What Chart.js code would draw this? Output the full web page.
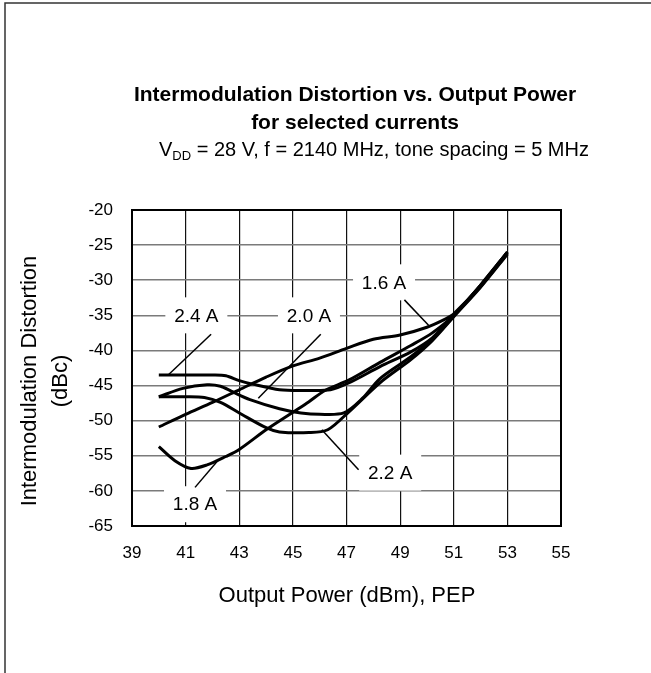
<!DOCTYPE html>
<html>
<head>
<meta charset="utf-8">
<script src="https://cdn.jsdelivr.net/npm/chart.js@4.4.0/dist/chart.umd.min.js"></script>
<style>
  html, body { margin: 0; padding: 0; background: #fff; }
</style>
</head>
<body>
<canvas id="chart" width="651" height="673"></canvas>
<script>
// ===== data =====
const seriesNames = ['1.6 A', '1.8 A', '2.0 A', '2.2 A', '2.4 A'];

const x16 = [40, 41, 42, 43, 44, 45, 46, 47, 48, 49, 50, 50.7, 51, 52, 53];
const y16 = [-50.9, -49.1, -47.4, -45.6, -43.8, -42.2, -41.1, -39.7, -38.4, -37.8, -36.7, -35.5, -34.8, -30.8, -26];

const x18 = [40, 40.6, 41.2, 41.8, 42.5, 43, 44, 45, 45.6, 46.2, 47.1, 48.25, 49.4, 50.2, 51, 52, 53];
const y18 = [-53.7, -55.7, -56.8, -56.3, -55.1, -54.1, -51.3, -48.8, -47.3, -45.7, -44.2, -41.7, -39.3, -37.5, -35, -30.7, -26];

const x20 = [40, 40.9, 41.8, 42.3, 42.7, 43.4, 44.5, 45.3, 46, 46.9, 47.6, 48.25, 49.4, 50.2, 51, 52, 53];
const y20 = [-46.6, -45.4, -44.9, -45.1, -45.8, -47.0, -48.3, -48.9, -49.1, -48.9, -46.8, -44.0, -40.9, -38.4, -35.1, -30.9, -26.2];

const x22 = [40, 41, 41.7, 42.3, 43, 44, 44.5, 45.6, 46.3, 47.1, 48.25, 49.4, 50.2, 51, 52, 53];
const y22 = [-46.6, -46.6, -46.7, -47.4, -48.9, -51.0, -51.6, -51.7, -51.3, -48.7, -44.6, -41.3, -38.6, -35.2, -31.0, -26.3];

const x24 = [40, 41, 42, 42.5, 43, 43.5, 44.5, 45.5, 46.4, 47.1, 48.25, 49.4, 50.2, 51, 52, 53];
const y24 = [-43.5, -43.5, -43.5, -43.6, -44.3, -44.8, -45.6, -45.7, -45.6, -44.6, -42.3, -40.2, -38.2, -35, -30.7, -26];

const xTicks = [39, 41, 43, 45, 47, 49, 51, 53, 55];
const yTicks = [-20, -25, -30, -35, -40, -45, -50, -55, -60, -65];

// callout labels: text position and leader line, in data units
const callouts = [
  { text: '2.4 A', x: 41.4, y: -35.0, from: [41.95, -37.7], to: [40.35, -43.5] },
  { text: '2.0 A', x: 45.6, y: -35.0, from: [46.04, -37.7], to: [43.71, -46.8] },
  { text: '1.6 A', x: 48.4, y: -30.3, from: [49.16, -32.8], to: [50.06, -36.4] },
  { text: '2.2 A', x: 48.63, y: -57.4, from: [47.45, -57.0], to: [46.08, -51.3] },
  { text: '1.8 A', x: 41.35, y: -61.9, from: [41.35, -59.5], to: [42.22, -55.6] }
];

const FONT = "'Liberation Sans', Arial, Helvetica, sans-serif";

function pts(xs, ys) {
  return xs.map((x, i) => ({ x: x, y: ys[i] }));
}

const allX = [x16, x18, x20, x22, x24];
const allY = [y16, y18, y20, y22, y24];

const datasets = seriesNames.map((name, i) => ({
  label: name,
  data: pts(allX[i], allY[i]),
  borderColor: '#000',
  borderWidth: 3,
  pointRadius: 0,
  tension: 0.3,
  fill: false
}));

// titles, axis titles, frames and callouts
const decor = {
  id: 'decor',
  beforeDatasetsDraw(chart) {
    const ctx = chart.ctx;
    const xs = chart.scales.x, ys = chart.scales.y;
    ctx.save();
    ctx.font = '19px ' + FONT;
    ctx.textAlign = 'center';
    ctx.textBaseline = 'middle';
    callouts.forEach(c => {
      const px = xs.getPixelForValue(c.x);
      const py = ys.getPixelForValue(c.y);
      ctx.fillStyle = '#fff';
      ctx.fillRect(px - 31, py - 18, 62, 36);
      ctx.fillStyle = '#000';
      ctx.fillText(c.text, px, py + 1);
      ctx.beginPath();
      ctx.moveTo(xs.getPixelForValue(c.from[0]), ys.getPixelForValue(c.from[1]));
      ctx.lineTo(xs.getPixelForValue(c.to[0]), ys.getPixelForValue(c.to[1]));
      ctx.lineWidth = 1.5;
      ctx.strokeStyle = '#000';
      ctx.stroke();
    });
    ctx.restore();
  },
  afterDraw(chart) {
    const ctx = chart.ctx;
    const a = chart.chartArea;
    ctx.save();
    // plot frame
    ctx.strokeStyle = '#000';
    ctx.lineWidth = 2;
    ctx.strokeRect(a.left, a.top, a.right - a.left, a.bottom - a.top);

    // outer frame (left and top)
    ctx.strokeStyle = '#333';
    ctx.lineWidth = 1.5;
    ctx.beginPath();
    ctx.moveTo(5, 673);
    ctx.lineTo(5, 3);
    ctx.lineTo(651, 3);
    ctx.stroke();

    ctx.fillStyle = '#000';
    ctx.textAlign = 'center';
    ctx.textBaseline = 'middle';
    ctx.font = 'bold 21px ' + FONT;
    ctx.fillText('Intermodulation Distortion vs. Output Power', 355, 95);
    ctx.fillText('for selected currents', 355, 123);

    // subtitle with subscript
    const partA = 'V', partSub = 'DD', partB = ' = 28 V, f = 2140 MHz, tone spacing = 5 MHz';
    ctx.font = '20px ' + FONT;
    const wA = ctx.measureText(partA).width;
    const wB = ctx.measureText(partB).width;
    ctx.font = '13px ' + FONT;
    const wS = ctx.measureText(partSub).width;
    let sx = 374 - (wA + wS + wB) / 2;
    ctx.textAlign = 'left';
    ctx.font = '20px ' + FONT;
    ctx.fillText(partA, sx, 150);
    ctx.font = '13px ' + FONT;
    ctx.fillText(partSub, sx + wA, 156);
    ctx.font = '20px ' + FONT;
    ctx.fillText(partB, sx + wA + wS, 150);

    // axis titles
    ctx.textAlign = 'center';
    ctx.font = '22px ' + FONT;
    ctx.fillText('Output Power (dBm), PEP', 347, 596);
    ctx.translate(30, 381);
    ctx.rotate(-Math.PI / 2);
    ctx.fillText('Intermodulation Distortion', 0, 0);
    ctx.fillText('(dBc)', 0, 31);
    ctx.restore();
  }
};

new Chart(document.getElementById('chart'), {
  type: 'line',
  data: { datasets: datasets },
  options: {
    responsive: false,
    animation: false,
    layout: { padding: { left: 0, top: 210, right: 90, bottom: 0 } },
    plugins: {
      legend: { display: false },
      title: { display: false },
      tooltip: { enabled: false }
    },
    scales: {
      x: {
        type: 'linear',
        min: 39,
        max: 55,
        afterBuildTicks: s => { s.ticks = xTicks.map(v => ({ value: v })); },
        afterFit: s => { s.height = 147; },
        ticks: { color: '#000', font: { family: FONT, size: 17 }, padding: 17, maxRotation: 0 },
        grid: {
          drawTicks: false,
          color: c => (c.tick && (c.tick.value === 39 || c.tick.value === 55)) ? 'rgba(0,0,0,0)' : '#111',
          lineWidth: 1.2
        },
        border: { display: false }
      },
      y: {
        type: 'linear',
        min: -65,
        max: -20,
        afterBuildTicks: s => { s.ticks = yTicks.map(v => ({ value: v })); },
        afterFit: s => { s.width = 132; },
        ticks: { color: '#000', font: { family: FONT, size: 17 }, padding: 19 },
        grid: {
          drawTicks: false,
          color: '#7a7a7a',
          lineWidth: 1.6
        },
        border: { display: false }
      }
    }
  },
  plugins: [decor]
});
</script>
</body>
</html>
